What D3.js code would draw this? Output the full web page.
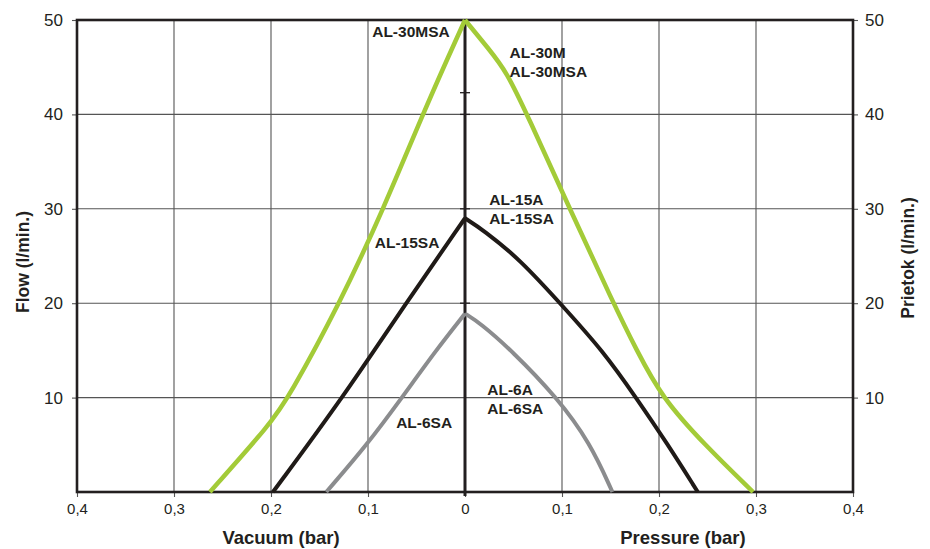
<!DOCTYPE html>
<html>
<head>
<meta charset="utf-8">
<script src="https://cdn.jsdelivr.net/npm/d3@7"></script>
<style>
  html, body { margin: 0; padding: 0; background: #fff; }
  svg { display: block; font-family: "Liberation Sans", Arial, sans-serif; }
</style>
</head>
<body>
<div id="chart"></div>
<script>
/* Flow vs vacuum / pressure chart — AL pump series */

// x: negative = vacuum side, positive = pressure side (bar)
var xTicks = [-0.4, -0.3, -0.2, -0.1, 0, 0.1, 0.2, 0.3, 0.4];
var yTicks = [10, 20, 30, 40, 50];
var centerTicks = [20, 30, 40, 42.3];

// [bar, l/min]
var al30Vac  = [[-0.263, 0], [-0.2, 7.3], [-0.182, 10], [-0.129, 20], [-0.084, 30], [-0.0436, 40],
                [-0.0155, 46.5], [0, 50]];
var al30Pres = [[0, 50], [0.024, 47], [0.043, 44.5], [0.064, 40], [0.108, 30], [0.153, 20],
                [0.177, 15], [0.203, 10], [0.247, 5], [0.297, 0]];
var al15Vac  = [[-0.198, 0], [-0.126, 10], [-0.061, 20], [0, 29]];
var al15Pres = [[0, 29], [0.019, 27.75], [0.057, 24.6], [0.0997, 19.8], [0.1426, 14.9],
                [0.177, 9.9], [0.208, 5.2], [0.240, 0]];
var al6Vac   = [[-0.143, 0], [-0.101, 5], [-0.065, 10], [-0.030, 15], [0, 18.9]];
var al6Pres  = [[0, 18.9], [0.0155, 17.9], [0.048, 15], [0.095, 10], [0.129, 5.2], [0.152, 0]];

var series = [
  { name: 'AL-30M', color: '#a3cb38', width: 4.5, parts: [al30Vac, al30Pres] },
  { name: 'AL-15A', color: '#1f1a17', width: 4,   parts: [al15Vac, al15Pres] },
  { name: 'AL-6A',  color: '#8b8c8e', width: 4,   parts: [al6Vac, al6Pres] }
];

var labels = [
  { x: -0.0557, y: 48.2, lines: ['AL-30MSA'], anchor: 'middle' },
  { x: 0.046,  y: 46.0, lines: ['AL-30M', 'AL-30MSA'], anchor: 'start' },
  { x: 0.025,  y: 30.4, lines: ['AL-15A', 'AL-15SA'], anchor: 'start' },
  { x: -0.093, y: 25.9, lines: ['AL-15SA'], anchor: 'start' },
  { x: -0.071, y: 6.8,  lines: ['AL-6SA'], anchor: 'start' },
  { x: 0.023,  y: 10.3, lines: ['AL-6A', 'AL-6SA'], anchor: 'start' }
];

var W = 930, H = 549;
var L = 77, R = 853, T = 20, B = 492;

var svg = d3.select('#chart').append('svg')
  .attr('width', W).attr('height', H);

var x = d3.scaleLinear().domain([-0.4, 0.4]).range([L, R]);
var y = d3.scaleLinear().domain([0, 50]).range([B, T]);

var fmtX = function (d) { return String(Math.abs(Math.round(d * 10) / 10)).replace('.', ','); };

/* grid */
var grid = svg.append('g').attr('stroke', '#555').attr('stroke-width', 1.1);
grid.selectAll('line.v').data(xTicks.filter(function (d) { return d > -0.4 && d < 0.4 && d !== 0; }))
  .enter().append('line')
  .attr('x1', function (d) { return x(d); }).attr('x2', function (d) { return x(d); })
  .attr('y1', T).attr('y2', B);
grid.selectAll('line.h').data(yTicks.filter(function (d) { return d < 50; }))
  .enter().append('line')
  .attr('x1', L).attr('x2', R)
  .attr('y1', function (d) { return y(d); }).attr('y2', function (d) { return y(d); });

/* axes */
var axB = svg.append('g').attr('transform', 'translate(0,' + B + ')')
  .call(d3.axisBottom(x).tickValues(xTicks).tickFormat(fmtX).tickSize(5).tickPadding(6));
var axL = svg.append('g').attr('transform', 'translate(' + L + ',0)')
  .call(d3.axisLeft(y).tickValues(yTicks).tickSize(5).tickPadding(9));
var axR = svg.append('g').attr('transform', 'translate(' + R + ',0)')
  .call(d3.axisRight(y).tickValues(yTicks).tickSize(5).tickPadding(7));

[axB, axL, axR].forEach(function (a) {
  a.select('.domain').remove();
  a.selectAll('.tick line').attr('stroke', '#555').attr('stroke-width', 1.1);
  a.selectAll('.tick text').attr('fill', '#231f20')
    .style('font-family', '"Liberation Sans", Arial, sans-serif');
});
axB.selectAll('.tick text').style('font-size', '15px');
axL.selectAll('.tick text').style('font-size', '17px');
axR.selectAll('.tick text').style('font-size', '17px');

/* frame */
svg.append('rect')
  .attr('x', L).attr('y', T).attr('width', R - L).attr('height', B - T)
  .attr('fill', 'none').attr('stroke', '#231f20').attr('stroke-width', 2.6);

/* centre line with small ticks */
svg.append('line')
  .attr('x1', x(0)).attr('x2', x(0)).attr('y1', T).attr('y2', B + 4)
  .attr('stroke', '#231f20').attr('stroke-width', 3);
svg.selectAll('line.ct').data(centerTicks).enter().append('line')
  .attr('x1', x(0) - 5).attr('x2', x(0) + 5)
  .attr('y1', function (d) { return y(d); }).attr('y2', function (d) { return y(d); })
  .attr('stroke', '#231f20').attr('stroke-width', 1.3);

/* curves, each side drawn separately so the peak stays sharp */
var line = d3.line()
  .x(function (d) { return x(d[0]); })
  .y(function (d) { return y(d[1]); })
  .curve(d3.curveBasis);

series.slice().reverse().forEach(function (s) {
  s.parts.forEach(function (p) {
    svg.append('path').datum(p)
      .attr('d', line)
      .attr('fill', 'none')
      .attr('stroke', s.color)
      .attr('stroke-width', s.width)
      .attr('stroke-linejoin', 'miter');
  });
});

/* curve labels */
labels.forEach(function (lb) {
  var t = svg.append('text')
    .attr('x', x(lb.x)).attr('y', y(lb.y))
    .attr('text-anchor', lb.anchor)
    .attr('font-size', 15.5).attr('font-weight', 'bold')
    .attr('fill', '#231f20');
  lb.lines.forEach(function (s, i) {
    t.append('tspan').attr('x', x(lb.x)).attr('dy', i ? 19 : 0).text(s);
  });
});

/* axis titles */
function title(tx, ty, txt, rot) {
  svg.append('text')
    .attr('transform', 'translate(' + tx + ',' + ty + ')' + (rot ? ' rotate(-90)' : ''))
    .attr('text-anchor', 'middle')
    .attr('font-size', rot ? 17.5 : 18.5).attr('font-weight', 'bold')
    .attr('fill', '#231f20')
    .text(txt);
}
title(281, 544, 'Vacuum (bar)');
title(683, 544, 'Pressure (bar)');
title(29, 262, 'Flow (l/min.)', true);
title(914, 258, 'Prietok (l/min.)', true);
</script>
</body>
</html>
